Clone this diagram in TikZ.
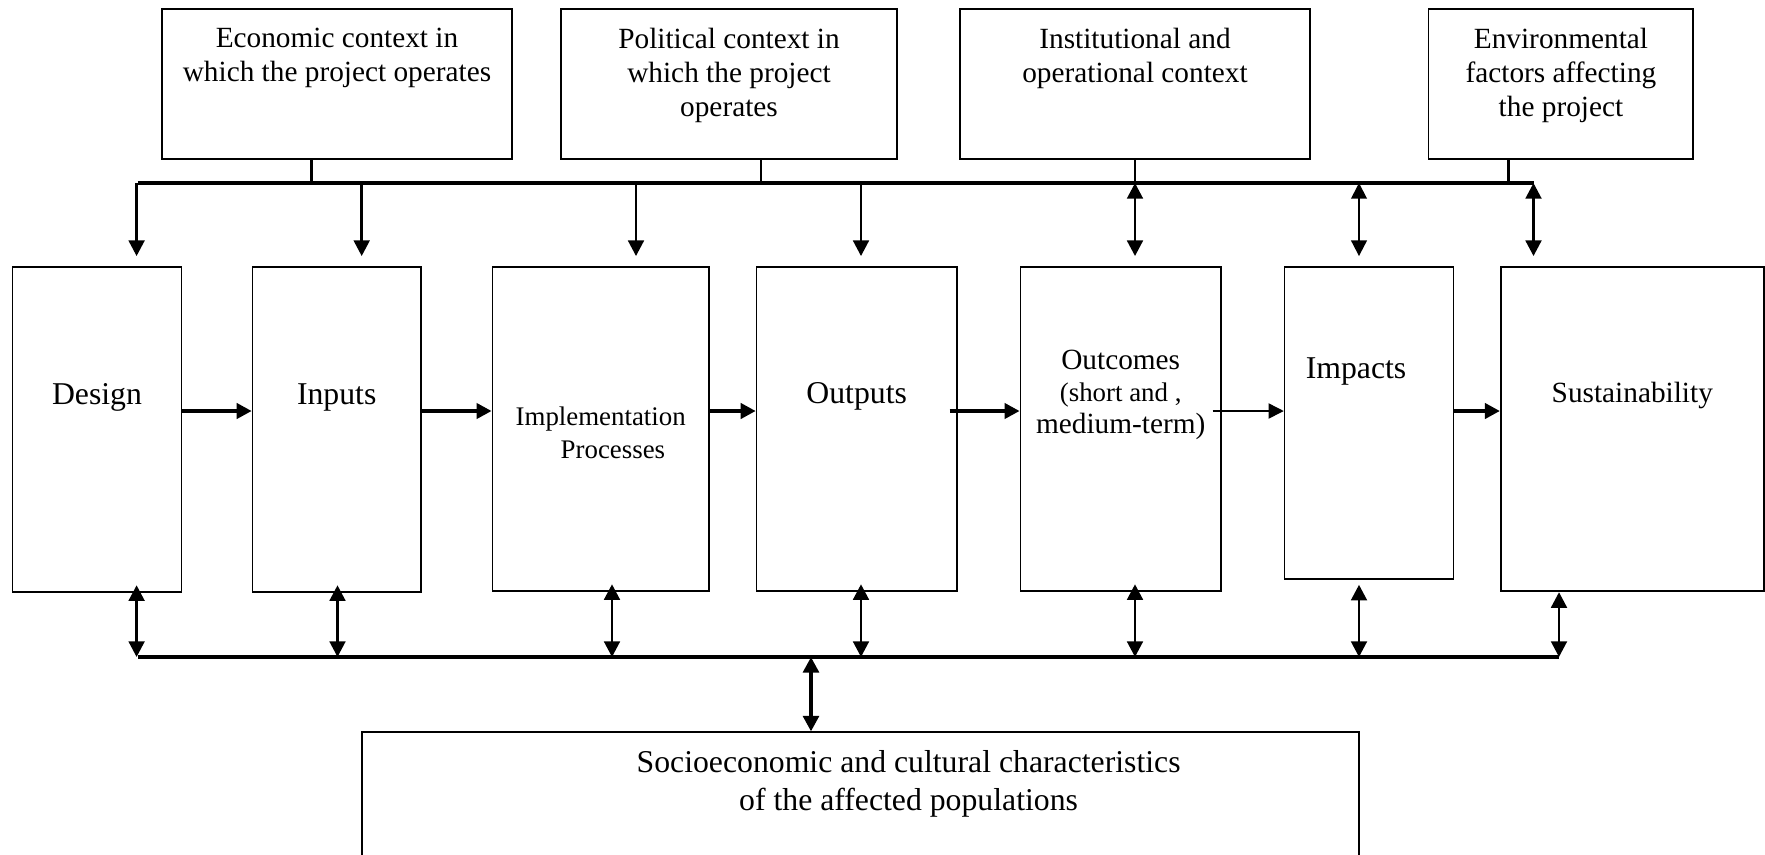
\documentclass[tikz,border=0pt]{standalone}
\usepackage{fontspec}
\setmainfont{Liberation Serif}
\usetikzlibrary{arrows.meta, positioning, fit}
\tikzset{
  box/.style      = {rectangle, draw=black, line width=0.7pt, inner sep=0pt},
  ctxtxt/.style   = {align=center, inner sep=0pt, font=\fontsize{12}{13.9}\selectfont},
  stagetxt/.style = {align=center, inner sep=0pt, font=\fontsize{13}{15}\selectfont},
  poptxt/.style   = {align=center, inner sep=0pt, font=\fontsize{13}{15.7}\selectfont},
  bus/.style      = {line width=1.4pt},
  stem/.style     = {line width=1.1pt},
  down/.style     = {-{Triangle[length=6.4pt, width=6.4pt]}, line width=1.15pt, shorten >=4pt},
  both/.style     = {{Triangle[length=6.4pt, width=6.4pt]}-{Triangle[length=6.4pt, width=6.4pt]}, line width=1.2pt},
  flow/.style     = {-{Triangle[length=6.2pt, width=6.2pt]}, line width=1.6pt},
  flowthin/.style = {-{Triangle[length=6.2pt, width=6.2pt]}, line width=0.6pt},
}
\begin{document}
\begin{tikzpicture}[x=0.4095pt, y=-0.4095pt]

\useasboundingbox (0,0) rectangle (1765,854);

% ==================== context boxes (top) ====================
\node[box, fit={(162,9.3) (512,159.3)}]     (econ)  {};
\node[box, fit={(561,9.3) (897,159.3)}]     (polit) {};
\node[box, fit={(960,9.3) (1310,159.3)}]    (inst)  {};
\node[box, fit={(1428.6,9.3) (1693.3,159.3)}] (env) {};

\node[ctxtxt, below=8pt of econ.north, anchor=north]  (econ-t)  {Economic context in\\which the project operates};
\node[ctxtxt, below=8pt of polit.north, anchor=north] (polit-t) {Political context in\\which the project\\operates};
\node[ctxtxt, below=8pt of inst.north, anchor=north]  (inst-t)  {Institutional and\\operational context};
\node[ctxtxt, below=8pt of env.north, anchor=north]   (env-t)   {Environmental\\factors affecting\\the project};

% ==================== stage boxes (middle) ====================
\node[box, fit={(12.6,266.7) (181.4,591.7)}]    (design)   {};
\node[box, fit={(252.6,266.7) (420.8,591.7)}]   (inputs)   {};
\node[box, fit={(492.5,266.7) (709,590.7)}]     (impl)     {};
\node[box, fit={(756.6,266.7) (956.8,590.7)}]   (outputs)  {};
\node[box, fit={(1020.5,266.7) (1220.9,590.7)}] (outcomes) {};
\node[box, fit={(1284.6,266.7) (1453.4,579)}]   (impacts)  {};
\node[box, fit={(1500.8,266.7) (1763.8,591.3)}] (sust)     {};

\node[stagetxt] (design-t)  at (97,397)    {Design};
\node[stagetxt] (inputs-t)  at (336.7,397) {Inputs};
\node[stagetxt, font=\fontsize{11}{13.6}\selectfont] (impl-t) at (600.7,433) {Implementation\\\hspace*{10pt}Processes};
\node[stagetxt] (outputs-t) at (856.7,396) {Outputs};
\node[stagetxt, font=\fontsize{12}{13}\selectfont] (outcomes-t) at (1120.7,395)
     {Outcomes\\\fontsize{11}{13}\selectfont(short and ,\\medium-term)};
\node[stagetxt] (impacts-t) at (1356,371.7) {Impacts};
\node[stagetxt, font=\fontsize{12}{14}\selectfont] (sust-t) at (1632.3,395) {Sustainability};

% ==================== population box (bottom) ====================
\node[box, fit={(361.7,732.3) (1359.3,880)}] (pop) {};
\node[poptxt] (pop-t) at (908.6,784) {Socioeconomic and cultural characteristics\\of the affected populations};

% ==================== top bus ====================
\coordinate (tbl) at (137.8,183);
\coordinate (tbr) at (1533.5,183);
\draw[bus] (tbl) -- (tbr);

\foreach \x/\n in {311.7/econ, 761/polit, 1135/inst, 1508.7/env}
  \draw[stem] (\x,183) -- (\x,183 |- \n.south);

\foreach \x/\n in {136.6/design, 361.7/inputs, 636/impl, 861/outputs}
  \draw[down] (\x,183) -- (\x,183 |- \n.north);

\draw[both, shorten >=4pt] (1135,183) -- (1135,183 |- outcomes.north);
\draw[both, shorten >=4pt, line width=0.8pt] (1359,183) -- (1359,183 |- impacts.north);
\draw[both, shorten >=4pt] (1533.5,183) -- (1533.5,183 |- sust.north);

% ==================== stage flow ====================
\coordinate (row) at (0,411);
\draw[flow] (design.east |- row) -- (inputs.west |- row);
\draw[flow] (inputs.east |- row) -- (impl.west |- row);
\draw[flow] (impl.east |- row) -- (outputs.west |- row);
\draw[flow, shorten <=-3.3pt] (outputs.east |- row) -- (outcomes.west |- row);
\draw[flowthin, shorten <=-3.7pt] (outcomes.east |- row) -- (impacts.west |- row);
\draw[flow] (impacts.east |- row) -- (sust.west |- row);

% ==================== bottom bus ====================
\coordinate (bbl) at (137.8,657);
\coordinate (bbr) at (1559,657);
\draw[bus] (bbl) -- (bbr);

\foreach \x/\n/\s in {136.6/design/-3pt, 337.5/inputs/-3pt, 612/impl/-3pt, 861/outputs/-3pt,
                      1135/outcomes/-3pt, 1359/impacts/2pt, 1559/sust/0pt}
  \draw[both, shorten <=\s] (\x,657 |- \n.south) -- (\x,657);

\draw[both, line width=1.6pt] (811,657) -- (811,657 |- pop.north);

\end{tikzpicture}
\end{document}
